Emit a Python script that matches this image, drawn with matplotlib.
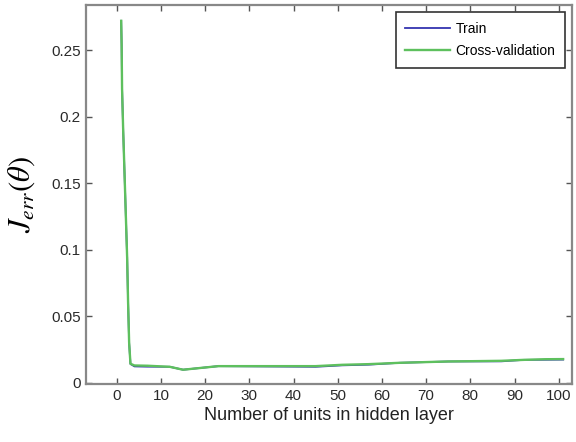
import numpy as np
import matplotlib.pyplot as plt

# number of hidden units (vertices)
units = [1, 1.1, 1.2, 1.45, 1.75, 2.05, 2.35, 2.55, 2.8, 3.1, 4, 7, 12, 15, 23,
         45, 51, 57, 64, 75, 87, 92, 97, 101]
# cross-validation error
cv_err = [0.272, 0.254, 0.221, 0.190, 0.158, 0.126, 0.094, 0.062, 0.030, 0.0143,
          0.0130, 0.0128, 0.0120, 0.0098, 0.0125, 0.0125, 0.0135, 0.0140, 0.0150,
          0.0160, 0.0165, 0.0172, 0.0177, 0.0178]
# training error (nearly identical, shows through at a few spots)
train_err = [0.272, 0.254, 0.221, 0.190, 0.158, 0.126, 0.094, 0.062, 0.030, 0.0141,
             0.0123, 0.0121, 0.0120, 0.0098, 0.0125, 0.0120, 0.0131, 0.0136, 0.0150,
             0.0160, 0.0161, 0.0172, 0.0173, 0.0174]

xticks = list(range(0, 101, 10))
yticks = [0, 0.05, 0.1, 0.15, 0.2, 0.25]
ytick_labels = ['0', '0.05', '0.1', '0.15', '0.2', '0.25']

plt.rcParams['font.family'] = ['Liberation Sans', 'DejaVu Sans']
plt.rcParams['mathtext.fontset'] = 'stix'

fig = plt.figure(figsize=(5.76, 4.42), dpi=100)
ax = fig.add_axes([0.149, 0.131, 0.844, 0.858])

ax.plot(units, train_err, color='#3434b0', lw=1.3, label='Train')
ax.plot(units, cv_err, color='#5ec05e', lw=1.7, label='Cross-validation')

ax.set_xlim(-7, 103)
ax.set_ylim(-0.001, 0.284)
ax.set_xticks(xticks)
ax.set_yticks(yticks)
ax.set_yticklabels(ytick_labels)
ax.tick_params(direction='in', length=4, width=1, colors='#555555',
               labelcolor='#2a2a2a', labelsize=11, top=True, right=True)
for s in ax.spines.values():
    s.set_color('#888888')
    s.set_linewidth(1.6)

ax.set_xlabel('Number of units in hidden layer', fontsize=13, color='#222222', labelpad=3)
ax.set_ylabel(r'$\mathbf{\mathit{J_{err}(\theta)}}$', fontsize=22, labelpad=10)

leg = ax.legend(loc='upper right', fontsize=10, fancybox=False, framealpha=1,
                edgecolor='#333333', handlelength=3.2, handletextpad=0.4,
                borderpad=0.7, labelspacing=0.6, borderaxespad=0.5)
leg.get_frame().set_linewidth(1.2)

fig.savefig('out.png', dpi=100)
